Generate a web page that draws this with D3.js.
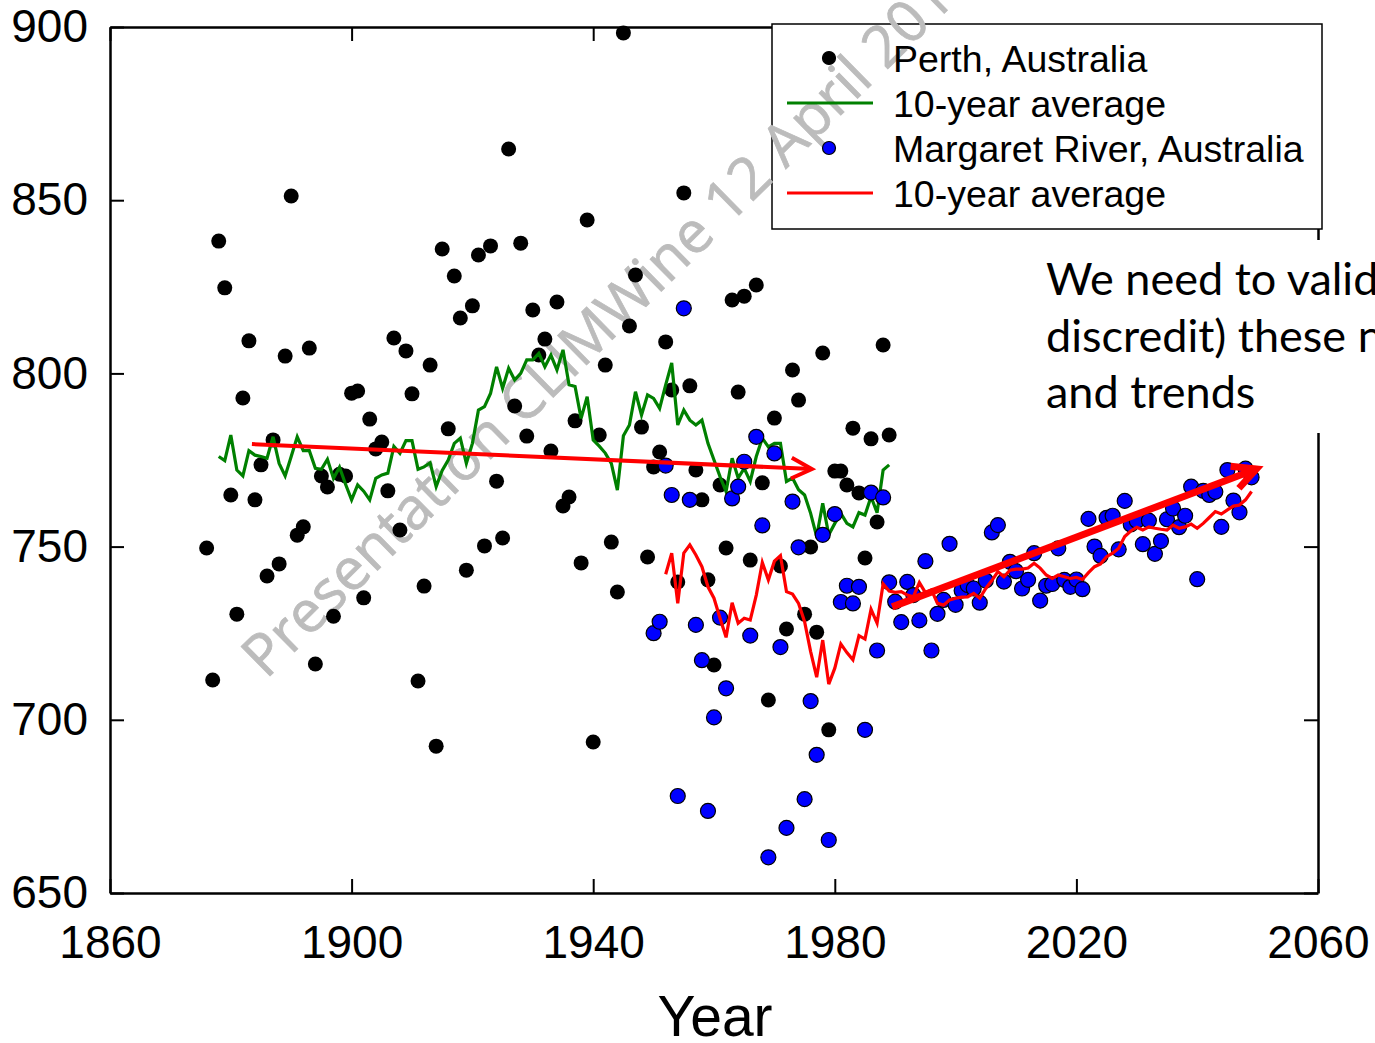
<!DOCTYPE html>
<html>
<head>
<meta charset="utf-8">
<script src="https://cdn.jsdelivr.net/npm/d3@7"></script>
<style>
  body { margin: 0; background: #fff; }
</style>
</head>
<body>
<svg id="chart"></svg>
<script>
// Perth yearly values (black dots)
const perthStart = 1876
const perthValues = [
  749.6, 711.5, 838.2, 824.7, 764.9, 730.5, 792.9, 809.4, 763.5, 773.6,
  741.5, 780.8, 745.0, 805.0, 851.2, 753.3, 755.7, 807.3, 716.1, 770.4,
  767.2, 729.9, 770.9, 770.4, 794.3, 794.9, 735.2, 786.8, 778.2, 780.2,
  766.1, 810.2, 754.8, 806.5, 794.1, 711.2, 738.6, 802.4, 692.4, 835.9,
  784.0, 828.1, 816.0, 743.2, 819.5, 834.2, 750.2, 836.8, 768.9, 752.5,
  864.8, 790.6, 837.6, 781.9, 818.3, 805.3, 809.9, 777.6, 820.6, 761.7,
  764.3, 786.3, 745.3, 844.3, 693.6, 782.2, 802.4, 751.3, 736.9, 898.3,
  813.7, 828.4, 784.5, 747.0, 773.0, 777.3, 809.1, 795.2, 739.8, 852.1,
  796.4, 772.1, 763.5, 740.4, 715.8, 767.8, 749.6, 821.2, 794.6, 822.3,
  746.1, 825.5, 768.4, 705.7, 787.1, 744.4, 726.2, 801.0, 792.3, 730.5,
  749.9, 725.3, 805.9, 697.1, 771.8, 771.8, 767.8, 784.2, 765.5, 746.7,
  781.1, 757.1, 808.2, 782.2]

// Perth 10-year average (green line)
const perthAvgStart = 1878
const perthAvg = [
  776.0, 774.8, 782.2, 772.1, 770.4, 777.7, 776.4, 776.0, 775.5, 781.7,
  774.0, 770.4, 776.0, 781.7, 777.7, 777.7, 772.6, 772.3, 775.2, 769.7,
  772.9, 768.0, 763.5, 767.8, 766.0, 763.5, 769.7, 770.7, 771.2, 778.9,
  776.9, 780.6, 780.6, 772.3, 773.0, 774.2, 767.3, 772.0, 775.0, 779.8,
  781.3, 774.0, 779.8, 789.4, 790.4, 794.2, 801.9, 795.7, 801.5, 798.1,
  800.0, 803.9, 803.9, 805.8, 801.9, 805.3, 801.0, 806.8, 796.7, 796.2,
  787.0, 793.3, 780.8, 779.0, 777.0, 774.0, 766.3, 782.0, 785.1, 794.7,
  788.0, 793.8, 792.8, 789.9, 796.7, 803.0, 785.1, 789.4, 786.5, 785.1,
  786.5, 779.8, 775.0, 770.2, 765.9, 775.5, 769.8, 772.6, 768.8, 776.0,
  781.3, 778.8, 779.8, 779.8, 768.8, 769.8, 766.4, 764.9, 759.6, 752.9,
  762.5, 753.4, 756.7, 759.6, 756.7, 755.7, 759.8, 759.1, 764.4, 759.8,
  772.1, 773.6]

// Margaret River yearly values (blue dots)
const mrStart = 1950
const mrValues = [
  725.0, 728.3, 773.4, 764.9, 678.0, 818.8, 763.5, 727.4, 717.2, 673.7,
  700.7, 729.5, 709.1, 763.9, 767.3, 774.5, 724.3, 781.7, 756.1, 660.3,
  776.9, 721.0, 668.8, 763.0, 749.8, 677.1, 705.4, 689.9, 753.4, 665.3,
  759.4, 734.0, 738.7, 733.6, 738.4, 697.1, 765.6, 720.0, 764.2, 739.7,
  734.1, 728.2, 739.8, 736.0, 728.7, 745.8, 720.0, 730.6, 734.6, 750.8,
  733.2, 737.3, 738.9, 737.9, 733.8, 740.2, 754.1, 756.2, 739.9, 745.6,
  742.9, 737.9, 740.4, 748.1, 734.4, 738.7, 739.2, 749.5, 740.4, 738.4,
  740.5, 737.7, 758.0, 750.0, 747.3, 758.3, 758.9, 749.2, 763.2, 756.4,
  757.4, 750.7, 757.5, 747.9, 751.6, 757.9, 761.0, 755.6, 758.9, 767.3,
  740.6, 766.1, 764.9, 765.8, 755.7, 772.1, 763.3, 759.9, 772.5, 770.0]

// Margaret River 10-year average (red line)
const mrAvgStart = 1952
const mrAvg = [
  742.0, 748.1, 733.6, 748.1, 750.5, 747.6, 744.2, 738.4, 735.1, 729.3,
  723.8, 733.8, 727.9, 729.3, 728.8, 736.0, 745.4, 740.4, 745.8, 747.4,
  737.0, 736.3, 733.6, 728.3, 719.7, 712.3, 723.0, 710.3, 714.9, 721.9,
  719.4, 717.3, 724.3, 723.3, 731.9, 727.9, 739.2, 737.2, 736.8, 737.0,
  736.0, 735.5, 739.6, 736.7, 737.5, 733.6, 733.1, 734.6, 735.1, 735.4,
  735.5, 736.5, 735.1, 737.9, 740.2, 742.8, 741.3, 743.2, 743.5, 743.5,
  743.8, 745.2, 743.8, 741.8, 740.8, 741.8, 741.3, 740.8, 741.1, 740.5,
  742.5, 744.2, 745.0, 747.1, 748.1, 749.5, 752.9, 754.5, 755.6, 754.8,
  755.7, 755.3, 755.0, 754.8, 756.2, 755.3, 755.7, 756.5, 755.3, 756.7,
  758.4, 760.1, 759.4, 760.6, 761.7, 762.0, 763.5, 765.9]

// hand-drawn trend arrows: [year, value] from -> to
const arrowFrom = [[1883.5, 779.6], [1989.5, 732.6]]
const arrowTo = [[1976.2, 772.4], [2049.8, 772.4]]

const xTicks = [1860, 1900, 1940, 1980, 2020, 2060]
const yTicks = [650, 700, 750, 800, 850, 900]
const legendLabels = ["Perth, Australia", "10-year average", "Margaret River, Australia", "10-year average"]
const noteLines = ["We need to validate (or", "discredit) these numbers", "and trends"]
const watermarkText = "Presentation CLIMWine 12 April 2016"

const width = 1375
const height = 1043
const font = "'Liberation Sans', Arial, sans-serif"

const perth = perthValues.map((v, i) => ({year: perthStart + i, value: v}))
const perthLine = perthAvg.map((v, i) => ({year: perthAvgStart + i, value: v}))
const mr = mrValues.map((v, i) => ({year: mrStart + i, value: v}))
const mrLine = mrAvg.map((v, i) => ({year: mrAvgStart + i, value: v}))

const x = d3.scaleLinear().domain([1860, 2060]).range([110, 1318])
const y = d3.scaleLinear().domain([650, 900]).range([893, 27])

const svg = d3.select("#chart")
    .attr("width", width)
    .attr("height", height)
    .style("background", "#fff")

// frame + ticks (ticks point inward on all four sides)
const tick = 14
const axes = [
    {ax: d3.axisBottom(x).tickValues(xTicks).tickFormat(d3.format("d")).tickSizeInner(-tick).tickPadding(32), t: `translate(0,${y(650)})`, labels: true},
    {ax: d3.axisLeft(y).tickValues(yTicks).tickFormat(d3.format("d")).tickSizeInner(-tick).tickPadding(22), t: `translate(${x(1860)},0)`, labels: true},
    {ax: d3.axisTop(x).tickValues(xTicks).tickSizeInner(-tick), t: `translate(0,${y(900)})`, labels: false},
    {ax: d3.axisRight(y).tickValues(yTicks).tickSizeInner(-tick), t: `translate(${x(2060)},0)`, labels: false}
]
axes.forEach(a => {
    const g = svg.append("g")
        .attr("transform", a.t)
        .call(a.ax.tickSizeOuter(0))
    g.select(".domain").attr("stroke", "#000").attr("stroke-width", 2.5)
    g.selectAll(".tick line").attr("stroke", "#000").attr("stroke-width", 2)
    g.selectAll(".tick text")
        .style("font-family", font)
        .style("font-size", "46px")
        .attr("fill", "#000")
    if (!a.labels) g.selectAll(".tick text").remove()
})

svg.append("text")
    .attr("x", 715)
    .attr("y", 1036)
    .attr("text-anchor", "middle")
    .style("font-family", font)
    .style("font-size", "57px")
    .text("Year")

// legend box (white, hides the top spine under it)
svg.append("rect")
    .attr("x", 772).attr("y", 24)
    .attr("width", 550).attr("height", 205)
    .attr("fill", "#fff")
    .attr("stroke", "#000")
    .attr("stroke-width", 1.5)

// watermark, over the legend box but behind the data
svg.append("text")
    .attr("transform", "translate(266,680) rotate(-44.5)")
    .style("font-family", "'Open Sans', sans-serif")
    .style("font-size", "58px")
    .attr("fill", "#bcbcbc")
    .attr("stroke", "#bcbcbc")
    .attr("stroke-width", 0.8)
    .text(watermarkText)

const plot = svg.append("g")

plot.append("g")
    .selectAll("circle")
    .data(perth)
    .join("circle")
    .attr("cx", d => x(d.year))
    .attr("cy", d => y(d.value))
    .attr("r", 7.5)
    .attr("fill", "#000")

plot.append("path")
    .datum(perthLine)
    .attr("fill", "none")
    .attr("stroke", "#008000")
    .attr("stroke-width", 3.2)
    .attr("d", d3.line().x(d => x(d.year)).y(d => y(d.value)))

plot.append("g")
    .selectAll("circle")
    .data(mr)
    .join("circle")
    .attr("cx", d => x(d.year))
    .attr("cy", d => y(d.value))
    .attr("r", 7.5)
    .attr("fill", "#0000ff")
    .attr("stroke", "#000")
    .attr("stroke-width", 1.2)

plot.append("path")
    .datum(mrLine)
    .attr("fill", "none")
    .attr("stroke", "#ff0000")
    .attr("stroke-width", 3.2)
    .attr("d", d3.line().x(d => x(d.year)).y(d => y(d.value)))

// trend arrows
const arrowWidth = [4, 7]
const headLen = [23, 26]
arrowFrom.forEach((p, i) => {
    const x1 = x(p[0]), y1 = y(p[1])
    const x2 = x(arrowTo[i][0]), y2 = y(arrowTo[i][1])
    const ang = Math.atan2(y1 - y2, x1 - x2)
    const spread = 27 * Math.PI / 180
    const w1 = [x2 + headLen[i] * Math.cos(ang + spread), y2 + headLen[i] * Math.sin(ang + spread)]
    const w2 = [x2 + headLen[i] * Math.cos(ang - spread), y2 + headLen[i] * Math.sin(ang - spread)]
    const g = plot.append("g")
        .attr("fill", "none")
        .attr("stroke", "#ff0000")
        .attr("stroke-width", arrowWidth[i])
    g.append("line").attr("x1", x1).attr("y1", y1).attr("x2", x2).attr("y2", y2)
    g.append("path")
        .attr("stroke-linejoin", "miter")
        .attr("d", `M${w1[0]},${w1[1]}L${x2},${y2}L${w2[0]},${w2[1]}`)
})

// legend entries
const lg = svg.append("g")
const rowY = [72, 117, 162, 207]
legendLabels.forEach((label, i) => {
    const cy = rowY[i] - 14
    if (i % 2 === 0) {
        lg.append("circle")
            .attr("cx", 829).attr("cy", cy).attr("r", 6.5)
            .attr("fill", i === 0 ? "#000" : "#0000ff")
            .attr("stroke", "#000").attr("stroke-width", 1.2)
    } else {
        lg.append("line")
            .attr("x1", 787).attr("x2", 873)
            .attr("y1", cy).attr("y2", cy)
            .attr("stroke", i === 1 ? "#008000" : "#ff0000")
            .attr("stroke-width", 3)
    }
    lg.append("text")
        .attr("x", 893).attr("y", rowY[i])
        .style("font-family", font)
        .style("font-size", "37.5px")
        .text(label)
})

// note box on the right, covers the right spine
const note = svg.append("g")
note.append("rect")
    .attr("x", 1038).attr("y", 240)
    .attr("width", 340).attr("height", 193)
    .attr("fill", "#fff")
note.selectAll("text")
    .data(noteLines)
    .join("text")
    .attr("x", 1046)
    .attr("y", (d, i) => 295 + i * 56.7)
    .style("font-family", "Lato, sans-serif")
    .style("font-size", "45px")
    .attr("fill", "#000")
    .text(d => d)
</script>
</body>
</html>
